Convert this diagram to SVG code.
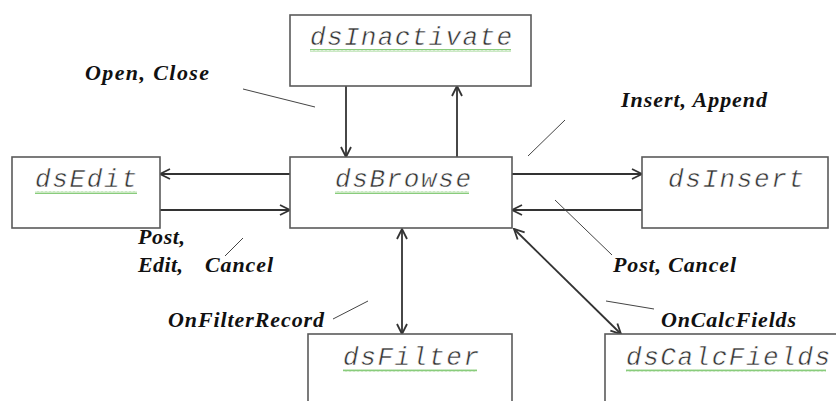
<svg xmlns="http://www.w3.org/2000/svg" width="836" height="401" viewBox="0 0 836 401">
<style>
.box{fill:#fff;stroke:#5a5a5a;stroke-width:1.6}
.nt{font-family:"Liberation Mono","Courier New",monospace;font-style:italic;font-size:26px;fill:#333;stroke:#fff;stroke-width:0.5}
.lb{font-family:"Liberation Serif","Times New Roman",serif;font-style:italic;font-weight:bold;font-size:22px;fill:#111}
.ar{stroke:#333;stroke-width:1.8;fill:none}
.ld{stroke:#444;stroke-width:1;fill:none}
.sq{fill:url(#squig)}
</style>
<defs>
<marker id="ah" viewBox="0 0 12 12" refX="11" refY="6" markerWidth="12" markerHeight="12" markerUnits="userSpaceOnUse" orient="auto-start-reverse">
<path d="M1,1 L11,6 L1,11" fill="none" stroke="#333" stroke-width="1.8"/>
</marker>
<pattern id="squig" width="4" height="3" patternUnits="userSpaceOnUse">
<path d="M0,2.5 L1,0.5 L2,2.5 L3,0.5 L4,2.5" fill="none" stroke="#6bbf5a" stroke-width="0.8"/>
</pattern>
</defs>
<rect width="836" height="401" fill="#fff"/>

<g id="connectors">
<line class="ar" x1="346" y1="86" x2="346" y2="157" marker-end="url(#ah)"/>
<line class="ar" x1="457" y1="157" x2="457" y2="86" marker-end="url(#ah)"/>
<line class="ar" x1="290" y1="174" x2="160" y2="174" marker-end="url(#ah)"/>
<line class="ar" x1="160" y1="210" x2="290" y2="210" marker-end="url(#ah)"/>
<line class="ar" x1="512" y1="174" x2="642" y2="174" marker-end="url(#ah)"/>
<line class="ar" x1="642" y1="210" x2="512" y2="210" marker-end="url(#ah)"/>
<line class="ar" x1="402" y1="229" x2="402" y2="334" marker-start="url(#ah)" marker-end="url(#ah)"/>
<line class="ar" x1="514" y1="229" x2="621" y2="334" marker-start="url(#ah)" marker-end="url(#ah)"/>
<line class="ld" x1="243" y1="89" x2="315" y2="107"/>
<line class="ld" x1="565" y1="120" x2="528" y2="156"/>
<line class="ld" x1="243" y1="238" x2="225" y2="256"/>
<line class="ld" x1="555" y1="200" x2="612" y2="255"/>
<line class="ld" x1="368" y1="301" x2="333" y2="319"/>
<line class="ld" x1="606" y1="301" x2="654" y2="309"/>
</g>

<g id="dsInactivate">
<rect class="box" x="290" y="15" width="241" height="71"/>
<text class="nt" x="310" y="45" textLength="202" lengthAdjust="spacing">dsInactivate</text>
<rect class="sq" x="310" y="49" width="201" height="3"/>
</g>
<g id="dsEdit">
<rect class="box" x="12" y="157" width="148" height="71"/>
<text class="nt" x="35" y="187" textLength="102" lengthAdjust="spacing">dsEdit</text>
<rect class="sq" x="35" y="191" width="102" height="3"/>
</g>
<g id="dsBrowse">
<rect class="box" x="290" y="157" width="222" height="71"/>
<text class="nt" x="335" y="187" textLength="136" lengthAdjust="spacing">dsBrowse</text>
<rect class="sq" x="335" y="191" width="134" height="3"/>
</g>
<g id="dsInsert">
<rect class="box" x="642" y="157" width="186" height="71"/>
<text class="nt" x="668" y="187" textLength="136" lengthAdjust="spacing">dsInsert</text>
</g>
<g id="dsFilter">
<rect class="box" x="308" y="334" width="204" height="80"/>
<text class="nt" x="343" y="365" textLength="136" lengthAdjust="spacing">dsFilter</text>
<rect class="sq" x="343" y="369" width="134" height="3"/>
</g>
<g id="dsCalcFields">
<rect class="box" x="605" y="334" width="240" height="80"/>
<text class="nt" x="626" y="365" textLength="204" lengthAdjust="spacing">dsCalcFields</text>
<rect class="sq" x="626" y="369" width="200" height="3"/>
</g>

<g id="labels">
<text class="lb" x="85" y="80" textLength="124" lengthAdjust="spacing">Open,  Close</text>
<text class="lb" x="621" y="107" textLength="146" lengthAdjust="spacing">Insert, Append</text>
<text class="lb" x="138" y="244" textLength="47" lengthAdjust="spacing">Post,</text>
<text class="lb" x="138" y="272" textLength="45" lengthAdjust="spacing">Edit,</text>
<text class="lb" x="205" y="272" textLength="68" lengthAdjust="spacing">Cancel</text>
<text class="lb" x="613" y="272" textLength="123" lengthAdjust="spacing">Post, Cancel</text>
<text class="lb" x="168" y="327" textLength="156" lengthAdjust="spacing">OnFilterRecord</text>
<text class="lb" x="661" y="327" textLength="135" lengthAdjust="spacing">OnCalcFields</text>
</g>
</svg>
